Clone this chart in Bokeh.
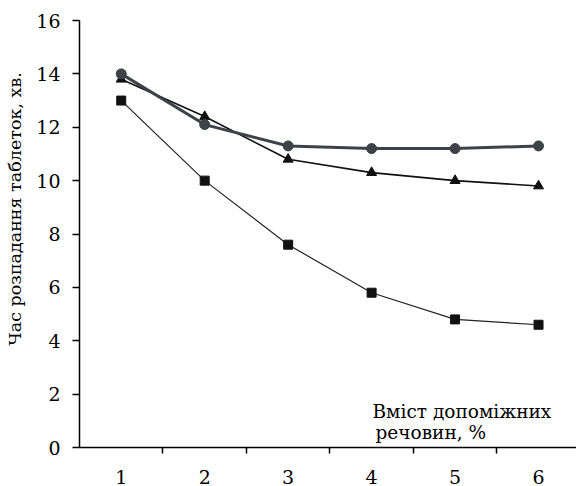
from bokeh.plotting import figure
from bokeh.models import FixedTicker, Label
from bokeh.embed import file_html
from bokeh.resources import INLINE

# Content of excipients, % (x categories)
content = [1, 2, 3, 4, 5, 6]
# Disintegration time of tablets, min, for three formulations
series_circle = [14.0, 12.1, 11.3, 11.2, 11.2, 11.3]
series_triangle = [13.8, 12.4, 10.8, 10.3, 10.0, 9.8]
series_square = [13.0, 10.0, 7.6, 5.8, 4.8, 4.6]

y_ticks = [0, 2, 4, 6, 8, 10, 12, 14, 16]
between_ticks = [1.5, 2.5, 3.5, 4.5, 5.5]

y_title = "Час розпадання таблеток, хв."
x_title = ["Вміст допоміжних", "речовин, %"]

FONT = "DejaVu Serif"

p = figure(width=576, height=486, output_backend="svg", toolbar_location=None,
           x_range=(0.5, 6.455), y_range=(0, 16),
           min_border_left=79, min_border_right=0, min_border_top=20,
           min_border_bottom=38)
p.outline_line_color = None
p.xgrid.visible = False
p.ygrid.visible = False
p.background_fill_color = "white"
p.border_fill_color = "white"

# x axis: labels at category centres, tick marks between categories
p.xaxis.ticker = FixedTicker(ticks=content, minor_ticks=between_ticks)
p.xaxis.major_tick_out = 0
p.xaxis.major_tick_in = 0
p.xaxis.minor_tick_out = 6
p.xaxis.minor_tick_in = 0
p.xaxis.minor_tick_line_color = "black"
p.xaxis.minor_tick_line_width = 1.5
p.xaxis.major_label_standoff = 16
p.xaxis.major_label_text_font = FONT
p.xaxis.major_label_text_font_size = "19px"
p.xaxis.major_label_text_color = "black"
p.xaxis.axis_line_width = 1.5
p.xaxis.axis_line_color = "black"

# y axis; the title sits a little above the middle of the axis, so it is
# padded at its start with no-break spaces
p.yaxis.ticker = FixedTicker(ticks=y_ticks, minor_ticks=[])
p.yaxis.major_tick_out = 7
p.yaxis.major_tick_in = 0
p.yaxis.major_tick_line_width = 1.5
p.yaxis.major_tick_line_color = "black"
p.yaxis.major_label_standoff = 12
p.yaxis.major_label_text_font = FONT
p.yaxis.major_label_text_font_size = "19px"
p.yaxis.major_label_text_color = "black"
p.yaxis.axis_line_width = 1.5
p.yaxis.axis_line_color = "black"
p.yaxis.axis_label = "\u00a0" * 9 + y_title
p.yaxis.axis_label_text_font = FONT
p.yaxis.axis_label_text_font_size = "17.5px"
p.yaxis.axis_label_text_font_style = "normal"
p.yaxis.axis_label_text_color = "black"
p.yaxis.axis_label_standoff = 8

# series with square markers
p.line(content, series_square, line_color="#222222", line_width=1.2)
p.scatter(content, series_square, marker="square", size=9, fill_color="#111111",
          line_color="#111111")

# series with triangle markers
p.line(content, series_triangle, line_color="#111111", line_width=1.6)
p.scatter(content, series_triangle, marker="triangle", size=10, fill_color="#111111",
          line_color="#111111")

# series with circle markers
p.line(content, series_circle, line_color="#3c4248", line_width=3)
p.scatter(content, series_circle, marker="circle", size=10, fill_color="#3c4248",
          line_color="#3c4248")

# x axis title inside the plot area, lower right
for txt, dx, dy in [(x_title[0], 293, 36), (x_title[1], 296, 15)]:
    p.add_layout(Label(x=dx, y=dy, x_units="screen", y_units="screen", text=txt,
                       text_baseline="alphabetic",
                       text_font=FONT, text_font_size="18.5px", text_color="black"))

open("out.html", "w").write(file_html(p, INLINE))
